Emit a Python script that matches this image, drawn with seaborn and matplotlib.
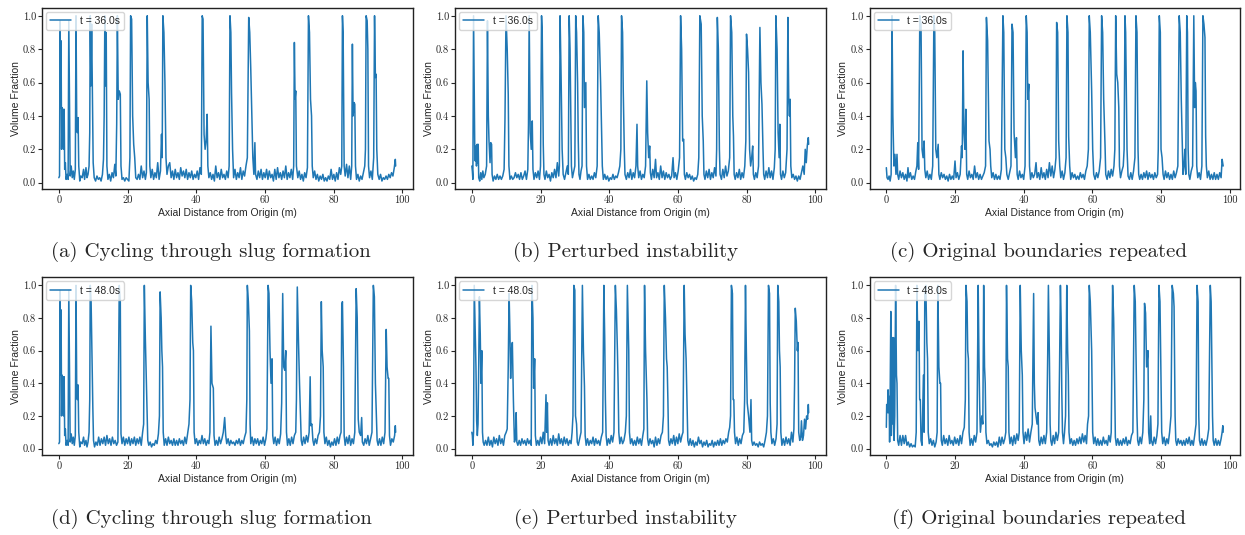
import matplotlib
matplotlib.use('Agg')
import matplotlib.pyplot as plt
import pandas as pd
import seaborn as sns

sns.set_style('ticks')
plt.rcParams['font.family'] = ['Liberation Sans', 'DejaVu Sans']
plt.rcParams['axes.formatter.use_mathtext'] = True

# (axial distance m, volume fraction)
trace_a = [(0.0,0.03),(0.2,0.04),(0.35,0.97),(0.5,0.45),(0.65,0.85),(0.8,0.2),(0.95,0.45),(1.1,0.22),(1.25,0.44),(1.4,0.2),(1.55,0.44),(1.7,0.08),(1.9,0.12),(2.1,0.02),(2.4,0.05),(2.7,0.02),(2.9,0.97),(3.1,0.5),(3.3,0.04),(3.6,0.1),(3.9,0.03),(4.2,0.07),(4.5,0.02),(4.8,0.08),(5.0,1.0),(5.2,0.4),(5.4,0.3),(5.6,0.39),(5.8,0.1),(6.1,0.01),(6.4,0.04),(6.8,0.03),(7.2,0.08),(7.5,0.02),(7.9,0.09),(8.2,0.03),(8.5,0.05),(8.8,0.1),(9.0,0.3),(9.15,1.0),(9.35,0.58),(9.55,0.95),(9.8,0.5),(10.0,0.12),(10.3,0.03),(10.7,0.01),(11.1,0.04),(11.5,0.02),(11.9,0.03),(12.3,0.01),(12.7,0.05),(13.0,0.14),(13.2,0.4),(13.4,1.0),(13.6,0.58),(13.8,0.9),(14.0,0.1),(14.3,0.02),(14.7,0.05),(15.1,0.01),(15.5,0.06),(15.9,0.03),(16.3,0.11),(16.6,0.04),(16.85,0.35),(17.05,1.0),(17.3,0.5),(17.6,0.55),(17.9,0.53),(18.1,0.1),(18.4,0.02),(18.8,0.03),(19.2,0.01),(19.6,0.03),(20.0,0.02),(20.4,0.01),(20.7,0.15),(20.9,1.0),(21.2,0.98),(21.5,0.4),(21.8,0.23),(22.1,0.15),(22.4,0.03),(22.8,0.02),(23.2,0.05),(23.6,0.02),(24.0,0.1),(24.4,0.03),(24.8,0.07),(25.2,0.02),(25.5,0.06),(25.75,1.0),(26.0,0.6),(26.3,0.5),(26.5,0.1),(26.8,0.03),(27.2,0.08),(27.6,0.02),(28.0,0.06),(28.4,0.03),(28.8,0.12),(29.2,0.02),(29.6,0.07),(29.9,0.29),(30.1,0.15),(30.3,1.0),(30.6,0.9),(30.9,0.6),(31.2,0.15),(31.5,0.05),(31.9,0.1),(32.3,0.12),(32.7,0.03),(33.1,0.07),(33.5,0.02),(33.9,0.08),(34.3,0.03),(34.7,0.06),(35.1,0.02),(35.5,0.09),(35.9,0.04),(36.3,0.07),(36.7,0.03),(37.1,0.08),(37.5,0.02),(37.9,0.06),(38.3,0.03),(38.7,0.07),(39.1,0.02),(39.5,0.05),(39.9,0.03),(40.3,0.07),(40.7,0.02),(41.1,0.09),(41.5,0.05),(41.75,1.0),(42.0,0.98),(42.3,0.29),(42.6,0.2),(42.9,0.25),(43.2,0.41),(43.4,0.1),(43.7,0.03),(44.1,0.06),(44.5,0.02),(44.9,0.05),(45.3,0.01),(45.7,0.1),(46.1,0.03),(46.5,0.06),(46.9,0.02),(47.3,0.08),(47.7,0.03),(48.1,0.05),(48.5,0.02),(48.9,0.07),(49.3,0.03),(49.6,0.1),(49.85,1.0),(50.1,0.9),(50.3,0.54),(50.6,0.2),(50.9,0.03),(51.3,0.08),(51.7,0.02),(52.1,0.06),(52.5,0.03),(52.9,0.09),(53.3,0.02),(53.7,0.07),(54.1,0.04),(54.5,0.1),(54.9,0.15),(55.1,0.56),(55.3,0.99),(55.6,0.9),(55.9,0.68),(56.2,0.4),(56.5,0.15),(56.8,0.05),(57.1,0.24),(57.3,0.05),(57.7,0.02),(58.1,0.07),(58.5,0.03),(58.9,0.08),(59.3,0.02),(59.7,0.06),(60.1,0.03),(60.5,0.08),(60.9,0.02),(61.3,0.07),(61.7,0.03),(62.1,0.05),(62.5,0.01),(62.9,0.08),(63.3,0.02),(63.7,0.09),(64.1,0.03),(64.5,0.06),(64.9,0.02),(65.3,0.07),(65.7,0.03),(66.1,0.1),(66.5,0.02),(66.9,0.06),(67.3,0.03),(67.7,0.08),(68.1,0.02),(68.4,0.1),(68.6,0.84),(68.8,0.5),(69.0,0.55),(69.2,0.1),(69.6,0.03),(70.0,0.07),(70.4,0.02),(70.8,0.05),(71.2,0.01),(71.6,0.06),(72.0,0.03),(72.4,0.09),(72.7,1.0),(73.0,0.9),(73.3,0.5),(73.6,0.4),(73.8,0.1),(74.1,0.03),(74.5,0.07),(74.9,0.02),(75.3,0.05),(75.7,0.01),(76.1,0.04),(76.5,0.02),(76.9,0.05),(77.3,0.01),(77.7,0.03),(78.1,0.01),(78.5,0.04),(78.9,0.02),(79.3,0.08),(79.7,0.02),(80.1,0.05),(80.5,0.01),(80.9,0.06),(81.3,0.02),(81.7,0.09),(82.1,0.05),(82.4,0.1),(82.6,1.0),(82.8,0.9),(83.1,0.1),(83.4,0.04),(83.8,0.11),(84.2,0.03),(84.6,0.1),(85.0,0.02),(85.3,0.1),(85.5,0.83),(85.7,0.4),(86.0,0.48),(86.2,0.47),(86.4,0.1),(86.7,0.02),(87.1,0.05),(87.5,0.01),(87.9,0.04),(88.3,0.02),(88.7,0.06),(89.1,0.1),(89.3,0.2),(89.5,1.0),(89.8,0.97),(90.0,0.8),(90.2,0.1),(90.5,0.03),(90.9,0.07),(91.3,0.02),(91.7,0.15),(91.95,1.0),(92.2,0.63),(92.4,0.65),(92.6,0.2),(92.9,0.05),(93.3,0.02),(93.7,0.05),(94.1,0.01),(94.5,0.03),(94.9,0.02),(95.3,0.04),(95.7,0.02),(96.1,0.05),(96.5,0.03),(96.9,0.06),(97.3,0.04),(97.7,0.09),(98.0,0.14),(98.1,0.1)]

trace_b = [(0.0,0.1),(0.15,0.07),(0.3,0.02),(0.5,1.0),(0.7,0.57),(0.85,0.2),(1.0,0.13),(1.2,0.22),(1.35,0.1),(1.55,0.23),(1.7,0.12),(1.85,0.23),(2.0,0.03),(2.3,0.01),(2.6,0.06),(2.9,0.02),(3.2,0.07),(3.5,0.03),(3.9,0.05),(4.3,0.1),(4.55,0.97),(4.8,0.4),(5.0,0.25),(5.3,0.12),(5.5,0.24),(5.75,0.23),(5.9,0.05),(6.2,0.01),(6.6,0.04),(7.0,0.02),(7.4,0.05),(7.8,0.02),(8.2,0.04),(8.6,0.02),(9.0,0.04),(9.4,0.08),(9.65,0.38),(9.95,1.0),(10.3,0.8),(10.6,0.53),(10.8,0.1),(11.1,0.02),(11.5,0.04),(11.9,0.02),(12.3,0.03),(12.7,0.06),(13.1,0.03),(13.5,0.05),(13.9,0.02),(14.3,0.06),(14.7,0.02),(15.1,0.04),(15.5,0.07),(15.9,0.02),(16.3,0.08),(16.5,0.35),(16.7,1.0),(17.0,0.3),(17.3,0.2),(17.6,0.37),(17.8,0.08),(18.1,0.02),(18.5,0.06),(18.9,0.03),(19.3,0.07),(19.7,0.02),(20.0,0.1),(20.3,1.0),(20.5,0.9),(20.8,0.23),(21.0,0.05),(21.3,0.02),(21.7,0.07),(22.1,0.03),(22.5,0.05),(22.9,0.01),(23.3,0.06),(23.7,0.03),(24.1,0.08),(24.5,0.03),(24.9,0.12),(25.3,0.04),(25.5,0.1),(25.7,1.0),(26.0,0.63),(26.3,0.2),(26.6,0.05),(27.0,0.02),(27.4,0.06),(27.8,0.1),(28.1,0.05),(28.35,1.0),(28.6,0.8),(28.8,0.45),(29.0,0.1),(29.3,0.03),(29.7,0.07),(30.0,0.1),(30.25,1.0),(30.5,0.9),(30.8,0.6),(31.0,0.25),(31.2,0.05),(31.5,0.02),(31.8,0.07),(32.1,0.1),(32.35,1.0),(32.6,0.9),(32.8,0.45),(33.2,0.6),(33.4,0.1),(33.7,0.02),(34.1,0.05),(34.5,0.02),(34.9,0.04),(35.3,0.02),(35.7,0.06),(36.1,0.03),(36.5,0.1),(36.8,1.0),(37.1,0.9),(37.5,0.6),(37.8,0.28),(38.0,0.1),(38.3,0.02),(38.7,0.05),(39.1,0.02),(39.5,0.04),(39.9,0.01),(40.3,0.03),(40.7,0.02),(41.1,0.05),(41.5,0.02),(41.9,0.04),(42.3,0.03),(42.7,0.06),(43.1,0.1),(43.4,0.2),(43.6,1.0),(43.9,0.9),(44.1,0.55),(44.4,0.2),(44.6,0.05),(45.0,0.02),(45.4,0.06),(45.8,0.03),(46.2,0.08),(46.6,0.02),(47.0,0.06),(47.4,0.03),(47.8,0.1),(48.1,0.35),(48.3,0.1),(48.6,0.03),(49.0,0.07),(49.4,0.02),(49.8,0.05),(50.2,0.03),(50.6,0.1),(50.95,0.61),(51.2,0.3),(51.5,0.15),(51.8,0.22),(52.0,0.06),(52.3,0.02),(52.7,0.08),(53.1,0.03),(53.5,0.14),(53.8,0.03),(54.2,0.06),(54.6,0.02),(55.0,0.1),(55.4,0.03),(55.8,0.07),(56.2,0.02),(56.6,0.06),(57.0,0.03),(57.4,0.05),(57.8,0.02),(58.2,0.04),(58.6,0.15),(58.9,0.03),(59.3,0.06),(59.7,0.02),(60.1,0.07),(60.5,0.15),(60.8,1.0),(61.1,0.8),(61.4,0.25),(61.7,0.26),(61.9,0.05),(62.2,0.02),(62.6,0.06),(63.0,0.03),(63.4,0.05),(63.8,0.02),(64.2,0.04),(64.6,0.01),(65.0,0.03),(65.4,0.02),(65.8,0.05),(66.1,0.15),(66.4,1.0),(66.8,0.95),(67.1,0.4),(67.4,0.25),(67.6,0.05),(67.9,0.02),(68.3,0.07),(68.7,0.03),(69.1,0.08),(69.5,0.02),(69.9,0.06),(70.3,0.03),(70.7,0.09),(71.1,0.04),(71.3,0.2),(71.5,0.99),(71.8,0.8),(72.1,0.2),(72.3,0.05),(72.7,0.02),(73.1,0.08),(73.5,0.03),(73.9,0.1),(74.3,0.04),(74.7,0.07),(75.1,0.15),(75.35,1.0),(75.7,0.9),(76.0,0.4),(76.2,0.28),(76.4,0.05),(76.7,0.02),(77.1,0.06),(77.5,0.03),(77.9,0.08),(78.3,0.02),(78.7,0.06),(79.1,0.03),(79.5,0.1),(79.8,0.25),(80.0,0.89),(80.3,0.8),(80.6,0.66),(80.9,0.2),(81.2,0.1),(81.5,0.15),(81.8,0.22),(82.0,0.05),(82.3,0.02),(82.7,0.06),(83.1,0.03),(83.5,0.1),(83.9,0.93),(84.2,0.6),(84.5,0.47),(84.8,0.2),(85.0,0.05),(85.3,0.02),(85.7,0.07),(86.1,0.03),(86.5,0.09),(86.9,0.03),(87.3,0.07),(87.7,0.02),(88.1,0.09),(88.35,0.2),(88.55,1.0),(88.9,0.8),(89.2,0.3),(89.5,0.15),(89.7,0.35),(89.9,0.05),(90.2,0.02),(90.6,0.07),(91.0,0.03),(91.4,0.06),(91.8,0.2),(92.05,0.99),(92.3,0.5),(92.5,0.4),(92.7,0.5),(92.9,0.1),(93.2,0.03),(93.6,0.05),(94.0,0.02),(94.4,0.04),(94.8,0.01),(95.2,0.04),(95.6,0.02),(96.0,0.06),(96.4,0.1),(96.8,0.05),(97.1,0.2),(97.4,0.12),(97.7,0.22),(98.0,0.27),(98.1,0.23)]

trace_c = [(0.0,0.09),(0.2,0.03),(0.5,0.02),(0.8,0.04),(1.1,0.01),(1.4,0.05),(1.65,1.0),(1.9,0.4),(2.2,0.1),(2.5,0.17),(2.8,0.05),(3.1,0.17),(3.3,0.05),(3.6,0.02),(4.0,0.07),(4.4,0.03),(4.8,0.06),(5.2,0.02),(5.6,0.05),(6.0,0.01),(6.3,0.09),(6.6,0.03),(7.0,0.06),(7.4,0.02),(7.8,0.04),(8.2,0.02),(8.6,0.07),(8.9,0.1),(9.15,0.24),(9.4,0.08),(9.75,1.0),(10.1,0.95),(10.4,0.2),(10.7,0.15),(11.0,0.25),(11.2,0.08),(11.5,0.03),(11.9,0.07),(12.3,0.02),(12.7,0.05),(13.1,0.02),(13.5,0.1),(13.85,1.0),(14.1,0.9),(14.4,0.2),(14.7,0.15),(15.1,0.23),(15.3,0.05),(15.6,0.02),(16.0,0.06),(16.4,0.03),(16.8,0.05),(17.2,0.02),(17.6,0.04),(18.0,0.01),(18.4,0.05),(18.8,0.02),(19.2,0.04),(19.6,0.02),(20.0,0.13),(20.3,0.03),(20.7,0.06),(21.1,0.02),(21.5,0.05),(21.9,0.22),(22.1,0.15),(22.35,0.79),(22.6,0.3),(22.9,0.2),(23.15,0.44),(23.4,0.05),(23.7,0.02),(24.1,0.07),(24.5,0.03),(24.9,0.05),(25.3,0.02),(25.7,0.1),(26.1,0.03),(26.5,0.06),(26.9,0.02),(27.3,0.05),(27.7,0.02),(28.1,0.04),(28.5,0.06),(28.9,0.1),(29.15,0.99),(29.5,0.85),(29.9,0.25),(30.2,0.2),(30.4,0.1),(30.7,0.03),(31.1,0.06),(31.5,0.02),(31.9,0.05),(32.3,0.02),(32.7,0.04),(33.1,0.02),(33.5,0.08),(33.95,1.0),(34.2,0.9),(34.5,0.2),(34.8,0.15),(35.1,0.05),(35.5,0.02),(35.9,0.06),(36.3,0.1),(36.6,0.95),(36.9,0.9),(37.2,0.3),(37.6,0.15),(37.9,0.27),(38.1,0.05),(38.4,0.02),(38.8,0.07),(39.2,0.03),(39.6,0.05),(40.0,0.02),(40.4,0.1),(40.75,1.0),(41.0,0.9),(41.2,0.5),(41.5,0.59),(41.7,0.1),(42.0,0.02),(42.4,0.06),(42.8,0.03),(43.2,0.05),(43.6,0.12),(43.9,0.03),(44.3,0.06),(44.7,0.02),(45.1,0.09),(45.5,0.03),(45.9,0.06),(46.3,0.02),(46.7,0.08),(47.1,0.03),(47.5,0.12),(47.9,0.04),(48.3,0.1),(48.7,0.03),(49.1,0.08),(49.4,0.15),(49.6,0.96),(49.9,0.9),(50.2,0.25),(50.5,0.1),(50.8,0.03),(51.2,0.07),(51.6,0.02),(52.0,0.06),(52.35,0.15),(52.6,1.0),(52.9,0.9),(53.1,0.28),(53.4,0.1),(53.7,0.02),(54.1,0.06),(54.5,0.03),(54.9,0.05),(55.3,0.02),(55.7,0.04),(56.1,0.02),(56.5,0.06),(56.9,0.03),(57.3,0.05),(57.7,0.02),(58.1,0.07),(58.5,0.1),(58.85,0.2),(59.1,1.0),(59.4,0.9),(59.8,0.55),(60.1,0.2),(60.4,0.05),(60.8,0.02),(61.2,0.06),(61.6,0.03),(62.0,0.07),(62.4,0.15),(62.7,1.0),(63.0,0.9),(63.3,0.5),(63.7,0.22),(63.9,0.05),(64.3,0.02),(64.7,0.07),(65.1,0.03),(65.5,0.08),(65.9,0.04),(66.3,0.1),(66.55,0.2),(66.8,1.0),(67.1,0.65),(67.4,0.6),(67.7,0.45),(67.9,0.1),(68.2,0.03),(68.6,0.07),(69.0,0.1),(69.25,0.2),(69.5,1.0),(69.7,0.9),(69.9,0.55),(70.1,0.2),(70.4,0.04),(70.8,0.02),(71.2,0.06),(71.6,0.02),(72.0,0.07),(72.4,0.15),(72.7,1.0),(73.0,0.9),(73.3,0.2),(73.5,0.05),(73.8,0.02),(74.2,0.05),(74.6,0.02),(75.0,0.06),(75.4,0.03),(75.8,0.07),(76.2,0.02),(76.6,0.06),(77.0,0.03),(77.4,0.05),(77.8,0.02),(78.2,0.06),(78.6,0.03),(79.0,0.05),(79.2,0.2),(79.5,1.0),(79.8,0.9),(80.0,0.2),(80.3,0.15),(80.6,0.05),(80.9,0.02),(81.3,0.07),(81.7,0.03),(82.1,0.06),(82.5,0.02),(82.9,0.05),(83.3,0.02),(83.7,0.07),(84.1,0.03),(84.5,0.06),(84.9,0.1),(85.3,1.0),(85.6,0.9),(85.9,0.5),(86.2,0.22),(86.4,0.05),(86.7,0.1),(86.95,0.2),(87.2,0.05),(87.5,1.0),(87.7,0.9),(87.9,0.2),(88.1,0.05),(88.4,0.02),(88.8,0.07),(89.2,0.1),(89.55,1.0),(89.8,0.45),(90.0,0.6),(90.2,0.55),(90.4,0.1),(90.7,0.03),(91.1,0.06),(91.5,0.02),(91.9,0.1),(92.2,1.0),(92.5,0.95),(92.8,0.87),(93.0,0.28),(93.2,0.1),(93.5,0.03),(93.9,0.07),(94.3,0.02),(94.7,0.05),(95.1,0.02),(95.5,0.06),(95.9,0.02),(96.3,0.05),(96.7,0.02),(97.1,0.06),(97.5,0.03),(97.8,0.14),(98.1,0.1)]

trace_d = [(0.0,0.03),(0.2,0.04),(0.35,0.97),(0.5,0.45),(0.65,0.85),(0.8,0.2),(0.95,0.45),(1.1,0.22),(1.25,0.44),(1.4,0.2),(1.55,0.44),(1.7,0.08),(1.9,0.12),(2.1,0.02),(2.4,0.05),(2.7,0.02),(2.9,0.97),(3.1,0.5),(3.3,0.04),(3.6,0.09),(3.9,0.03),(4.2,0.07),(4.5,0.02),(4.8,0.08),(5.0,1.0),(5.2,0.4),(5.4,0.3),(5.6,0.39),(5.8,0.1),(6.1,0.01),(6.4,0.04),(6.8,0.03),(7.2,0.07),(7.5,0.02),(7.9,0.05),(8.2,0.01),(8.5,0.04),(8.8,0.1),(9.0,0.3),(9.15,1.0),(9.4,0.9),(9.7,0.5),(9.9,0.25),(10.1,0.05),(10.4,0.01),(10.8,0.04),(11.2,0.02),(11.6,0.07),(12.0,0.02),(12.4,0.06),(12.8,0.03),(13.2,0.07),(13.6,0.02),(14.0,0.08),(14.4,0.03),(14.8,0.06),(15.2,0.02),(15.6,0.07),(16.0,0.03),(16.4,0.05),(16.8,0.02),(17.2,0.04),(17.6,1.0),(17.9,0.9),(18.1,0.09),(18.4,0.03),(18.8,0.07),(19.2,0.02),(19.6,0.06),(20.0,0.03),(20.4,0.07),(20.8,0.02),(21.2,0.06),(21.6,0.03),(22.0,0.07),(22.4,0.02),(22.8,0.06),(23.2,0.03),(23.6,0.07),(24.0,0.02),(24.4,0.1),(24.7,0.15),(24.9,1.0),(25.2,0.67),(25.5,0.4),(25.7,0.2),(25.9,0.05),(26.2,0.02),(26.6,0.04),(27.0,0.01),(27.4,0.03),(27.8,0.02),(28.2,0.05),(28.6,0.03),(29.0,0.09),(29.3,0.2),(29.5,0.96),(29.8,0.8),(30.0,0.6),(30.2,0.5),(30.4,0.1),(30.7,0.02),(31.1,0.06),(31.5,0.02),(31.9,0.07),(32.3,0.03),(32.7,0.05),(33.1,0.02),(33.5,0.06),(33.9,0.02),(34.3,0.05),(34.7,0.02),(35.1,0.06),(35.5,0.03),(35.9,0.05),(36.3,0.02),(36.7,0.07),(37.1,0.03),(37.5,0.09),(37.9,0.15),(38.2,0.3),(38.4,1.0),(38.7,0.9),(39.0,0.65),(39.2,0.6),(39.4,0.1),(39.7,0.03),(40.1,0.06),(40.5,0.02),(40.9,0.05),(41.3,0.03),(41.7,0.08),(42.1,0.03),(42.5,0.06),(42.9,0.02),(43.3,0.05),(43.7,0.03),(44.0,0.1),(44.3,0.75),(44.6,0.4),(45.0,0.37),(45.2,0.08),(45.5,0.02),(45.9,0.05),(46.3,0.02),(46.7,0.07),(47.1,0.03),(47.5,0.06),(47.9,0.1),(48.3,0.19),(48.6,0.08),(48.9,0.03),(49.3,0.06),(49.7,0.02),(50.1,0.05),(50.5,0.03),(50.9,0.04),(51.3,0.02),(51.7,0.05),(52.1,0.03),(52.5,0.06),(52.9,0.02),(53.3,0.05),(53.7,0.03),(54.1,0.07),(54.5,0.1),(54.75,0.3),(54.9,1.0),(55.2,0.9),(55.5,0.72),(55.7,0.15),(55.9,0.03),(56.3,0.07),(56.7,0.02),(57.1,0.06),(57.5,0.03),(57.9,0.06),(58.3,0.02),(58.7,0.05),(59.1,0.03),(59.5,0.07),(59.9,0.02),(60.3,0.06),(60.6,0.12),(60.95,1.0),(61.2,0.95),(61.5,0.6),(61.8,0.4),(62.1,0.55),(62.3,0.08),(62.6,0.03),(63.0,0.07),(63.4,0.02),(63.8,0.06),(64.2,0.03),(64.6,0.09),(64.9,0.28),(65.2,0.95),(65.5,0.5),(65.8,0.48),(66.1,0.6),(66.3,0.1),(66.6,0.02),(67.0,0.06),(67.4,0.02),(67.8,0.07),(68.2,0.03),(68.6,0.08),(69.0,0.1),(69.2,0.3),(69.45,0.99),(69.8,0.65),(70.1,0.4),(70.4,0.2),(70.6,0.05),(70.9,0.02),(71.3,0.07),(71.7,0.03),(72.1,0.08),(72.5,0.04),(72.9,0.1),(73.2,0.44),(73.4,0.14),(73.7,0.15),(74.0,0.05),(74.3,0.02),(74.7,0.06),(75.1,0.03),(75.5,0.08),(75.9,0.1),(76.2,0.2),(76.45,0.9),(76.7,0.6),(77.0,0.5),(77.2,0.1),(77.5,0.03),(77.9,0.07),(78.3,0.02),(78.7,0.05),(79.1,0.01),(79.5,0.04),(79.9,0.02),(80.3,0.06),(80.7,0.02),(81.1,0.07),(81.5,0.03),(81.9,0.08),(82.2,0.1),(82.4,0.88),(82.6,0.9),(82.9,0.5),(83.1,0.08),(83.4,0.02),(83.8,0.07),(84.2,0.03),(84.6,0.08),(85.0,0.02),(85.4,0.06),(85.8,0.03),(86.2,0.1),(86.6,0.98),(86.9,0.8),(87.2,0.18),(87.5,0.1),(87.9,0.08),(88.2,0.19),(88.4,0.04),(88.8,0.02),(89.2,0.06),(89.6,0.03),(90.0,0.08),(90.4,0.02),(90.8,0.06),(91.2,0.1),(91.6,1.0),(91.9,0.93),(92.2,0.4),(92.5,0.2),(92.7,0.05),(93.0,0.02),(93.4,0.06),(93.8,0.02),(94.2,0.07),(94.6,0.03),(95.0,0.1),(95.35,0.73),(95.6,0.5),(95.9,0.43),(96.1,0.43),(96.3,0.08),(96.6,0.02),(97.0,0.06),(97.4,0.04),(97.8,0.08),(98.0,0.14),(98.1,0.1)]

trace_e = [(0.0,0.1),(0.15,0.08),(0.3,0.02),(0.5,0.1),(0.7,1.0),(0.95,0.75),(1.2,0.5),(1.4,0.17),(1.6,0.08),(1.8,0.15),(2.0,0.5),(2.2,0.93),(2.45,0.7),(2.65,0.4),(2.9,0.6),(3.1,0.1),(3.3,0.04),(3.6,0.02),(4.0,0.05),(4.4,0.02),(4.8,0.07),(5.2,0.02),(5.6,0.05),(6.0,0.01),(6.4,0.07),(6.8,0.03),(7.2,0.06),(7.6,0.02),(8.0,0.08),(8.4,0.03),(8.8,0.06),(9.2,0.02),(9.6,0.08),(10.0,0.1),(10.3,0.12),(10.6,0.5),(10.85,0.95),(11.1,0.7),(11.3,0.43),(11.5,0.6),(11.8,0.65),(12.1,0.3),(12.4,0.04),(12.7,0.06),(12.9,0.22),(13.1,0.04),(13.4,0.02),(13.8,0.05),(14.2,0.02),(14.6,0.06),(15.0,0.03),(15.4,0.05),(15.8,0.02),(16.2,0.06),(16.6,0.03),(17.0,0.05),(17.3,0.02),(17.5,1.0),(17.8,0.8),(18.0,0.37),(18.3,0.55),(18.5,0.08),(18.8,0.02),(19.2,0.05),(19.6,0.02),(20.0,0.07),(20.4,0.03),(20.8,0.1),(21.2,0.03),(21.6,0.33),(21.8,0.1),(22.0,0.28),(22.2,0.05),(22.5,0.02),(22.9,0.06),(23.3,0.02),(23.7,0.08),(24.1,0.03),(24.5,0.06),(24.9,0.02),(25.3,0.09),(25.7,0.03),(26.1,0.06),(26.5,0.02),(26.9,0.07),(27.3,0.03),(27.7,0.06),(28.1,0.02),(28.5,0.05),(28.9,0.03),(29.2,0.1),(29.45,0.2),(29.7,1.0),(30.0,0.97),(30.2,0.2),(30.5,0.15),(30.7,0.04),(31.0,0.02),(31.4,0.06),(31.8,0.1),(32.2,1.0),(32.5,0.6),(32.8,0.38),(33.0,0.08),(33.3,0.02),(33.7,0.06),(34.1,0.02),(34.5,0.05),(34.9,0.03),(35.3,0.07),(35.7,0.02),(36.1,0.06),(36.5,0.03),(36.9,0.05),(37.3,0.02),(37.7,0.07),(38.1,0.1),(38.45,1.0),(38.7,0.68),(38.9,0.3),(39.1,0.08),(39.4,0.02),(39.8,0.06),(40.2,0.03),(40.6,0.08),(41.0,0.04),(41.4,0.1),(41.8,1.0),(42.1,0.85),(42.4,0.6),(42.6,0.4),(42.8,0.1),(43.1,0.03),(43.5,0.07),(43.9,0.03),(44.3,0.05),(44.7,0.1),(45.0,0.2),(45.3,1.0),(45.5,0.8),(45.7,0.6),(45.9,0.1),(46.2,0.03),(46.6,0.06),(47.0,0.02),(47.4,0.05),(47.8,0.02),(48.2,0.07),(48.6,0.03),(49.0,0.06),(49.4,0.02),(49.8,0.08),(50.1,0.12),(50.3,1.0),(50.6,0.6),(51.0,0.3),(51.2,0.06),(51.5,0.02),(51.9,0.06),(52.3,0.03),(52.7,0.05),(53.1,0.01),(53.5,0.07),(53.9,0.02),(54.3,0.06),(54.7,0.03),(55.1,0.08),(55.5,0.1),(55.8,0.2),(56.05,1.0),(56.4,0.8),(56.7,0.55),(56.9,0.5),(57.1,0.3),(57.3,0.05),(57.6,0.02),(58.0,0.06),(58.4,0.03),(58.8,0.08),(59.2,0.02),(59.6,0.07),(60.0,0.03),(60.4,0.09),(60.8,0.04),(61.2,0.08),(61.5,0.1),(61.85,1.0),(62.1,0.7),(62.4,0.55),(62.7,0.25),(62.9,0.05),(63.2,0.02),(63.6,0.06),(64.0,0.02),(64.4,0.05),(64.8,0.01),(65.2,0.04),(65.6,0.02),(66.0,0.07),(66.4,0.03),(66.8,0.05),(67.2,0.01),(67.6,0.04),(68.0,0.02),(68.4,0.05),(68.8,0.01),(69.2,0.03),(69.6,0.02),(70.0,0.05),(70.4,0.01),(70.8,0.04),(71.2,0.02),(71.6,0.05),(72.0,0.02),(72.4,0.06),(72.8,0.02),(73.2,0.05),(73.6,0.03),(74.0,0.06),(74.4,0.04),(74.8,0.1),(75.1,0.13),(75.35,0.2),(75.6,1.0),(75.9,0.95),(76.1,0.3),(76.3,0.3),(76.5,0.1),(76.8,0.03),(77.2,0.07),(77.6,0.02),(78.0,0.06),(78.4,0.03),(78.8,0.08),(79.2,0.1),(79.45,0.3),(79.7,1.0),(79.95,0.6),(80.2,0.28),(80.6,0.2),(81.0,0.1),(81.3,0.3),(81.5,0.05),(81.8,0.02),(82.2,0.04),(82.6,0.02),(83.0,0.03),(83.4,0.01),(83.8,0.04),(84.2,0.02),(84.6,0.03),(85.0,0.01),(85.4,0.05),(85.8,0.1),(86.1,0.2),(86.4,1.0),(86.7,0.95),(86.9,0.28),(87.1,0.1),(87.4,0.03),(87.8,0.06),(88.2,0.02),(88.6,0.06),(88.9,0.15),(89.1,1.0),(89.4,0.9),(89.6,0.6),(89.8,0.5),(90.0,0.1),(90.3,0.02),(90.7,0.06),(91.1,0.02),(91.5,0.07),(91.9,0.03),(92.3,0.06),(92.7,0.02),(93.1,0.1),(93.5,0.04),(93.8,0.12),(94.0,0.4),(94.2,0.86),(94.5,0.78),(94.8,0.6),(95.0,0.65),(95.2,0.1),(95.5,0.05),(95.8,0.07),(96.0,0.17),(96.3,0.05),(96.6,0.08),(96.9,0.18),(97.2,0.12),(97.5,0.2),(97.8,0.18),(98.0,0.27),(98.1,0.22)]

trace_f = [(0.0,0.13),(0.1,0.27),(0.3,0.22),(0.5,0.36),(0.65,0.22),(0.8,0.32),(0.95,0.04),(1.1,0.3),(1.3,0.84),(1.45,0.08),(1.6,0.2),(1.8,0.68),(1.95,0.15),(2.1,0.68),(2.25,0.05),(2.45,0.2),(2.7,1.0),(2.95,0.45),(3.1,0.4),(3.3,0.05),(3.6,0.02),(4.0,0.08),(4.4,0.02),(4.8,0.08),(5.2,0.03),(5.6,0.08),(6.0,0.02),(6.4,0.04),(6.8,0.01),(7.2,0.03),(7.6,0.01),(8.0,0.02),(8.4,0.01),(8.7,0.1),(8.9,1.0),(9.2,0.6),(9.5,0.78),(9.7,0.3),(9.9,0.3),(10.1,0.05),(10.4,0.02),(10.8,0.45),(11.0,0.1),(11.2,0.95),(11.5,1.0),(11.8,0.65),(12.0,0.55),(12.2,0.1),(12.5,0.03),(12.9,0.06),(13.3,0.02),(13.7,0.05),(14.1,0.01),(14.5,0.04),(14.8,0.1),(15.0,1.0),(15.3,0.5),(15.6,0.4),(15.8,0.4),(16.0,0.05),(16.3,0.02),(16.7,0.08),(17.1,0.03),(17.5,0.06),(17.9,0.02),(18.3,0.08),(18.7,0.03),(19.1,0.05),(19.5,0.02),(19.9,0.07),(20.3,0.03),(20.7,0.06),(21.1,0.02),(21.5,0.08),(21.9,0.03),(22.3,0.1),(22.7,0.13),(23.0,0.3),(23.2,1.0),(23.5,0.9),(23.7,0.6),(23.9,0.55),(24.1,0.1),(24.4,0.02),(24.8,0.06),(25.2,0.02),(25.6,0.08),(26.0,0.04),(26.4,0.1),(26.75,1.0),(27.0,0.5),(27.2,0.25),(27.4,0.1),(27.8,0.2),(28.1,0.15),(28.35,1.0),(28.6,0.5),(28.8,0.4),(29.0,0.1),(29.3,0.03),(29.7,0.05),(30.1,0.02),(30.5,0.03),(30.9,0.01),(31.3,0.04),(31.7,0.02),(32.1,0.04),(32.5,0.01),(32.9,0.07),(33.3,0.02),(33.7,0.07),(34.1,0.03),(34.5,0.06),(34.8,0.1),(35.0,1.0),(35.3,0.55),(35.5,0.5),(35.7,0.1),(36.0,0.03),(36.4,0.07),(36.8,0.02),(37.2,0.08),(37.6,0.03),(38.0,0.09),(38.4,0.05),(38.7,0.1),(39.0,1.0),(39.3,0.6),(39.6,0.45),(39.8,0.1),(40.1,0.03),(40.5,0.1),(40.9,0.05),(41.3,0.12),(41.7,0.04),(42.1,0.1),(42.5,0.15),(42.9,0.95),(43.1,0.4),(43.3,0.25),(43.6,0.2),(43.9,0.15),(44.2,0.22),(44.4,0.05),(44.7,0.02),(45.1,0.07),(45.5,0.03),(45.9,0.08),(46.3,0.03),(46.7,0.1),(47.0,0.58),(47.2,1.0),(47.5,0.55),(47.7,0.15),(47.9,0.05),(48.2,0.02),(48.6,0.08),(49.0,0.03),(49.4,0.1),(49.8,0.05),(50.2,0.1),(50.45,0.5),(50.7,1.0),(50.9,0.8),(51.1,0.35),(51.3,0.1),(51.6,0.03),(51.9,0.1),(52.2,0.2),(52.55,1.0),(52.8,0.6),(53.0,0.45),(53.2,0.1),(53.5,0.03),(53.9,0.06),(54.3,0.02),(54.7,0.05),(55.1,0.02),(55.5,0.06),(55.9,0.03),(56.3,0.07),(56.7,0.03),(57.1,0.09),(57.5,0.04),(57.9,0.08),(58.3,0.03),(58.6,0.15),(58.9,0.2),(59.1,1.0),(59.4,0.9),(59.8,0.6),(60.1,0.1),(60.4,0.03),(60.8,0.07),(61.2,0.02),(61.6,0.06),(62.0,0.02),(62.4,0.05),(62.8,0.02),(63.2,0.07),(63.6,0.03),(64.0,0.05),(64.4,0.02),(64.8,0.08),(65.2,0.04),(65.5,0.1),(65.9,1.0),(66.2,0.8),(66.5,0.4),(66.7,0.07),(67.0,0.02),(67.4,0.06),(67.8,0.02),(68.2,0.05),(68.6,0.02),(69.0,0.06),(69.4,0.03),(69.8,0.07),(70.2,0.02),(70.6,0.05),(71.0,0.03),(71.4,0.08),(71.8,0.1),(72.2,1.0),(72.5,0.9),(72.7,0.6),(73.0,0.2),(73.2,0.05),(73.5,0.02),(73.9,0.07),(74.3,0.03),(74.7,0.1),(75.0,0.3),(75.2,0.89),(75.5,0.83),(75.8,0.5),(76.2,0.6),(76.4,0.1),(76.7,0.03),(77.0,0.2),(77.2,0.05),(77.6,0.02),(78.0,0.07),(78.4,0.03),(78.8,0.08),(79.1,0.15),(79.4,1.0),(79.7,0.9),(80.0,0.4),(80.2,0.1),(80.5,0.03),(80.9,0.07),(81.3,0.02),(81.7,0.06),(82.1,0.03),(82.5,0.1),(82.9,0.2),(83.25,1.0),(83.6,0.95),(83.8,0.87),(84.1,0.2),(84.3,0.05),(84.6,0.02),(85.0,0.06),(85.4,0.03),(85.8,0.05),(86.2,0.02),(86.6,0.05),(87.0,0.02),(87.4,0.06),(87.8,0.03),(88.2,0.07),(88.6,0.02),(89.0,0.05),(89.4,0.02),(89.8,0.08),(90.2,0.15),(90.5,1.0),(90.8,0.9),(91.0,0.2),(91.2,0.05),(91.5,0.02),(91.9,0.06),(92.3,0.02),(92.7,0.05),(93.1,0.02),(93.5,0.06),(93.9,0.12),(94.35,1.0),(94.6,0.9),(94.75,0.65),(95.0,0.2),(95.2,0.05),(95.5,0.02),(95.9,0.06),(96.3,0.02),(96.7,0.05),(97.1,0.02),(97.5,0.06),(97.8,0.1),(98.0,0.14),(98.1,0.1)]

times = ['36.0', '36.0', '36.0', '48.0', '48.0', '48.0']
captions = ['(a) Cycling through slug formation', '(b) Perturbed instability',
            '(c) Original boundaries repeated', '(d) Cycling through slug formation',
            '(e) Perturbed instability', '(f) Original boundaries repeated']
x_ticks = [0, 20, 40, 60, 80, 100]
y_ticks = [0.0, 0.2, 0.4, 0.6, 0.8, 1.0]

traces = [trace_a, trace_b, trace_c, trace_d, trace_e, trace_f]

W, H = 1245, 535
fig = plt.figure(figsize=(W / 100, H / 100), dpi=100)

# layout in pixels
col_left = [42, 455, 869.5]
ax_w = 370.5
cap_x = [211, 626, 1039]
rows = [(7.5, 189.3, 252), (277.3, 455, 519)]

for i, trace in enumerate(traces):
    r, c = divmod(i, 3)
    top, bot, cap_y = rows[r]
    ax_h = bot - top
    ax = fig.add_axes([col_left[c] / W, 1 - bot / H, ax_w / W, ax_h / H])
    df = pd.DataFrame(trace, columns=['x', 'vf'])
    sns.lineplot(data=df, x='x', y='vf', ax=ax, color='#1f77b4', linewidth=1.1,
                 estimator=None, sort=False, label=f't = {times[i]}s')
    ax.set_xticks(x_ticks, labels=[str(t) for t in x_ticks], fontfamily='cmr10', fontsize=7.5)
    ax.set_yticks(y_ticks, labels=[f'{t:.1f}' for t in y_ticks], fontfamily='cmr10', fontsize=7.5)
    ax.tick_params(length=2.6, width=0.8, pad=1.8)
    for s in ax.spines.values():
        s.set_linewidth(1.0)
        s.set_color('#222222')
    ax.set_xlabel('Axial Distance from Origin (m)', fontsize=7.5)
    ax.set_ylabel('Volume Fraction', fontsize=7.5)
    ax.xaxis.set_label_coords(0.5, -18.5 / ax_h)
    ax.yaxis.set_label_coords(-21.0 / ax_w, 0.5)
    ax.legend(loc='upper left', fontsize=7.5, handlelength=2.0, borderaxespad=0.4)
    fig.text(cap_x[c] / W, 1 - cap_y / H, captions[i], ha='center', va='center',
             fontfamily='cmr10', fontsize=15)

fig.savefig('out.png', dpi=100)
